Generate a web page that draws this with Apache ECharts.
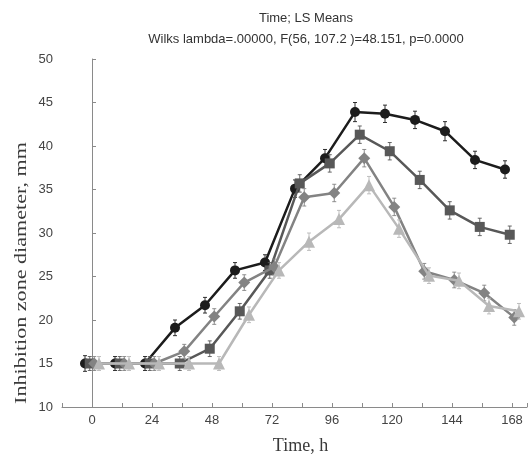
<!DOCTYPE html>
<html>
<head>
<meta charset="utf-8">
<script src="https://cdn.jsdelivr.net/npm/echarts@6/dist/echarts.min.js"></script>
<style>
html,body{margin:0;padding:0;background:#fff;}
#chart{width:529px;height:455px;}
</style>
</head>
<body>
<div id="chart"></div>
<script>
// ---- data ----
const times = [0, 12, 24, 36, 48, 60, 72, 84, 96, 108, 120, 132, 144, 156, 168];
const xTickLabels = [0, 24, 48, 72, 96, 120, 144, 168];
const yTickLabels = [10, 15, 20, 25, 30, 35, 40, 45, 50];

const circleMeans   = [15.0, 15.0, 15.0, 19.1, 21.7, 25.7, 26.6, 35.1, 38.6, 43.9, 43.7, 43.0, 41.7, 38.4, 37.3];
const squareMeans   = [15.0, 15.0, 15.0, 15.0, 16.7, 21.0, 25.7, 35.7, 38.0, 41.3, 39.4, 36.1, 32.6, 30.7, 29.8];
const diamondMeans  = [15.0, 15.0, 15.0, 16.4, 20.4, 24.3, 26.1, 34.1, 34.6, 38.6, 33.0, 25.6, 24.6, 23.1, 20.3];
const triangleMeans = [15.0, 15.0, 15.0, 15.0, 15.0, 20.6, 25.7, 29.0, 31.6, 35.5, 30.5, 25.1, 24.5, 21.6, 21.0];

const circleErr   = [0.9, 0.8, 0.8, 0.9, 0.9, 0.9, 0.9, 1.0, 1.0, 1.1, 1.0, 1.0, 1.1, 1.0, 1.0];
const squareErr   = [0.8, 0.8, 0.8, 0.8, 0.9, 0.9, 0.9, 1.0, 1.0, 1.0, 1.0, 1.0, 1.0, 1.0, 1.0];
const diamondErr  = [0.8, 0.8, 0.8, 0.8, 0.9, 0.9, 0.9, 1.0, 1.0, 1.0, 1.0, 0.9, 0.9, 0.9, 0.9];
const triangleErr = [0.8, 0.8, 0.8, 0.8, 0.8, 0.9, 0.9, 1.0, 1.0, 1.0, 1.0, 0.9, 0.9, 0.9, 0.9];

// ---- styles ----
const seriesDefs = [
  {name: 'circle',   means: circleMeans,   err: circleErr,   color: '#1c1c1c', symbol: 'circle',   size: 10, offset: -2.8},
  {name: 'square',   means: squareMeans,   err: squareErr,   color: '#585858', symbol: 'rect',     size: 10, offset: -0.9},
  {name: 'diamond',  means: diamondMeans,  err: diamondErr,  color: '#838383', symbol: 'diamond',  size: 12, offset: 0.9},
  {name: 'triangle', means: triangleMeans, err: triangleErr, color: '#b8b8b8', symbol: 'triangle', size: 12, offset: 2.8}
];

const sans = '"Liberation Sans", Arial, sans-serif';
const serif = '"Liberation Serif", "Times New Roman", serif';

const series = [];
seriesDefs.forEach(function (d, k) {
  const pts = times.map(function (t, i) { return [t + d.offset, d.means[i]]; });
  const bars = times.map(function (t, i) { return [t + d.offset, d.means[i] - d.err[i], d.means[i] + d.err[i]]; });
  series.push({
    type: 'custom',
    name: d.name + '-err',
    z: 2 + k * 2,
    silent: true,
    data: bars,
    renderItem: function (params, api) {
      const x = api.value(0);
      const lo = api.coord([x, api.value(1)]);
      const hi = api.coord([x, api.value(2)]);
      const cap = 2;
      const st = {stroke: d.color, lineWidth: 1, opacity: 0.9};
      return {
        type: 'group',
        children: [
          {type: 'line', shape: {x1: lo[0], y1: lo[1], x2: hi[0], y2: hi[1]}, style: st},
          {type: 'line', shape: {x1: lo[0] - cap, y1: lo[1], x2: lo[0] + cap, y2: lo[1]}, style: st},
          {type: 'line', shape: {x1: hi[0] - cap, y1: hi[1], x2: hi[0] + cap, y2: hi[1]}, style: st}
        ]
      };
    }
  });
  series.push({
    type: 'line',
    name: d.name,
    z: 3 + k * 2,
    data: pts,
    symbol: d.symbol,
    symbolSize: d.size,
    showAllSymbol: true,
    animation: false,
    lineStyle: {color: d.color, width: 2.5},
    itemStyle: {color: d.color, borderWidth: 0}
  });
});

const chart = echarts.init(document.getElementById('chart'), null, {renderer: 'canvas'});
chart.setOption({
  animation: false,
  backgroundColor: '#ffffff',
  grid: {left: 62, right: 2, top: 59, bottom: 48, containLabel: false, outerBoundsMode: 'none'},
  xAxis: {
    type: 'value',
    min: -12,
    max: 174,
    interval: 12,
    name: 'Time, h',
    nameLocation: 'middle',
    nameGap: 30,
    nameTextStyle: {fontFamily: serif, fontSize: 18, color: '#3a3a3a', padding: [0, 0, 0, 12]},
    axisLine: {show: true, lineStyle: {color: '#8a8a8a', width: 1}},
    axisTick: {show: true, inside: true, length: 4, lineStyle: {color: '#8a8a8a'}},
    splitLine: {show: false},
    axisLabel: {
      fontFamily: sans, fontSize: 13, color: '#444', margin: 7,
      showMinLabel: true, showMaxLabel: true,
      formatter: function (v) { return xTickLabels.indexOf(v) >= 0 ? String(v) : ''; }
    }
  },
  yAxis: {
    type: 'value',
    min: 10,
    max: 50,
    interval: 5,
    axisLine: {show: true, lineStyle: {color: '#8a8a8a', width: 1}},
    axisTick: {show: true, inside: true, length: 4, lineStyle: {color: '#8a8a8a'}},
    splitLine: {show: false},
    axisLabel: {
      fontFamily: sans, fontSize: 13, color: '#444', margin: 9,
      formatter: function (v) { return yTickLabels.indexOf(v) >= 0 ? String(v) : ''; }
    }
  },
  graphic: [
    {type: 'text', x: 306, y: 18, silent: true,
     style: {text: 'Time; LS Means', align: 'center', verticalAlign: 'middle', font: '13px ' + sans, fill: '#333'}},
    {type: 'text', x: 306, y: 39, silent: true,
     style: {text: 'Wilks lambda=.00000, F(56, 107.2 )=48.151, p=0.0000', align: 'center', verticalAlign: 'middle', font: '13px ' + sans, fill: '#333'}},
    {type: 'text', x: 22, y: 273, rotation: Math.PI / 2, scaleX: 1.3, scaleY: 1, silent: true,
     style: {text: 'Inhibition zone diameter, mm', align: 'center', verticalAlign: 'middle', font: '17px ' + serif, fill: '#3a3a3a'}}
  ],
  series: series
});
</script>
</body>
</html>
